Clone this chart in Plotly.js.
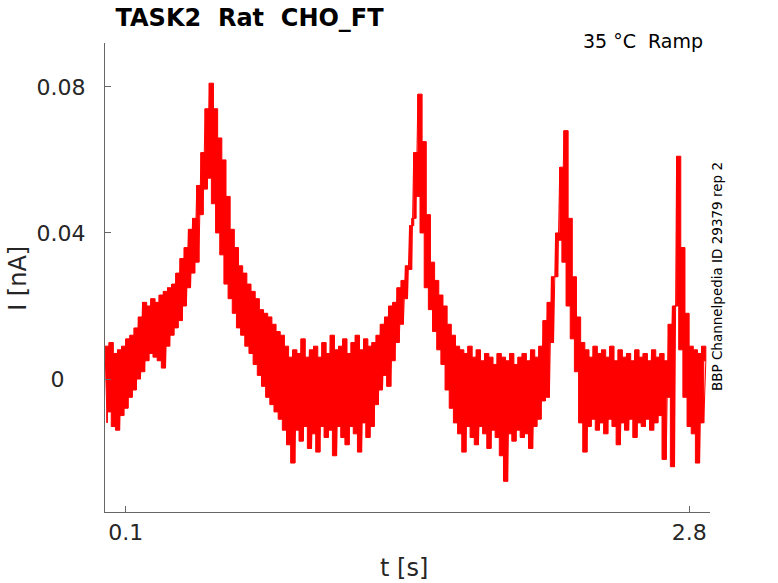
<!DOCTYPE html>
<html>
<head>
<meta charset="utf-8">
<script src="https://cdn.plot.ly/plotly-3.0.1.min.js"></script>
<style>
  html, body { margin: 0; padding: 0; background: #ffffff; }
  #plot { width: 778px; height: 583px; }
</style>
</head>
<body>
<div id="plot"></div>
<script>
/** @type {typeof import("plotly.js-dist-min")} */
const Plotly = window.Plotly;

// upper samples sit at t = 0, 0.02, 0.04 ... s, lower samples half a step later
const sampleStep = 0.02;
const upperPA = [
     9,  10,   7,   8,   9,   11,  12,  14,  17,  21,
    20,  22,  21,  23,  24,   25,  26,  29,  33,  36,
    41,  44,  53,  62,  74,   81,  74,  66,  60,  50,
    41,  36,  31,  29,  26,   24,  22,  19,  18,  17,
    15,  13,  12,   9,   6,    8,   7,  11,   6,   8,
     9,   6,  10,   7,  12,    8,   9,  11,   7,  10,
    12,   8,  11,   9,  10,   12,  15,  17,  20,  21,
    25,  27,  31,  42,  62,   78,  65,  45,  32,  27,
    23,  20,  15,  12,   9,    8,   7,   9,   6,   8,
     5,   7,   6,   4,   7,    6,   5,   7,   4,   6,
     7,   5,   8,   6,   9,   16,  21,  28,  40,  58,
    68,  44,  28,  17,  10,    8,   6,   9,   7,   8,
     6,   9,   5,   8,   6,    7,   5,   8,   6,   7,
     5,   8,   6,   7,   5,   15,  20,  61,  36,  18,
     9,   8,   7,   9,   5
];
const lowerPA = [
   -12,  -9, -13, -14, -10,   -8,  -5,  -3,   0,   2,
     5,   7,   6,   5,   3,    9,  12,  14,  16,  20,
    25,  29,  32,  45,  52,   55,  48,  40,  34,  26,
    22,  18,  14,  12,   9,    7,   4,   1,  -2,  -5,
    -7,  -9, -11, -14, -18,  -23, -14, -17, -13, -19,
   -15, -20, -13, -16, -14,  -21, -13, -16, -18, -13,
   -15, -20, -12, -16, -13,   -7,  -3,   1,  -2,   5,
    10,  15,  22,  30,  44,   50,  40,  25,  19,  13,
     8,   4,  -3,  -8, -12,  -15, -20, -13, -16, -18,
   -13, -15, -19, -14, -16,  -21, -28, -15, -17, -14,
   -16, -15, -19, -13, -11,   -6,  -5,  10,  28,  38,
    32,  20,  11,   2, -12,  -20, -13, -11, -14, -12,
   -15, -11, -13, -18, -12,  -14, -11, -16, -12, -13,
   -11, -14, -12, -10, -22,   -5, -24,  20,   8,  -5,
   -13, -15, -23, -12
];

const xTickVals = [0.1, 2.8];
const xTickText = ["0.1", "2.8"];
const yTickVals = [0, 0.04, 0.08];
const yTickText = ["0\u00a0\u00a0\u00a0", "0.04", "0.08"];

const upperTimes = upperPA.map((v, i) => i * sampleStep);
const lowerTimes = lowerPA.map((v, i) => i * sampleStep + sampleStep / 2);

// outline: along the upper excursions, back along the lower ones, filled
const bandX = upperTimes.concat(lowerTimes.slice().reverse());
const bandY = upperPA.concat(lowerPA.slice().reverse()).map(v => v / 1000);

// the same samples in time order, drawn as a thin line over the band
const zigX = [];
const zigY = [];
upperPA.forEach((v, i) => {
    zigX.push(upperTimes[i]);
    zigY.push(v / 1000);
    if (i < lowerPA.length) {
        zigX.push(lowerTimes[i]);
        zigY.push(lowerPA[i] / 1000);
    }
});

const traceBand = {
    x: bandX,
    y: bandY,
    mode: "lines",
    type: "scatter",
    fill: "toself",
    fillcolor: "#ff0000",
    line: { color: "#ff0000", width: 1, shape: "hv" },
    hoverinfo: "skip"
};

const traceCurrent = {
    x: zigX,
    y: zigY,
    mode: "lines",
    type: "scatter",
    line: { color: "#ff0000", width: 1 },
    hoverinfo: "skip"
};

const axisColor = "#666666";
const textColor = "#262626";

const layout = {
    width: 778,
    height: 583,
    margin: { l: 105, r: 68, t: 43, b: 71 },
    font: { family: "DejaVu Sans", color: textColor },
    paper_bgcolor: "#ffffff",
    plot_bgcolor: "#ffffff",
    showlegend: false,
    title: {
        text: "<b>TASK2\u00a0\u00a0Rat\u00a0\u00a0CHO_FT</b>",
        font: { size: 24, color: "#000000" },
        xref: "paper",
        x: 0.239,
        xanchor: "center",
        yref: "container",
        y: 0.969,
        yanchor: "middle"
    },
    xaxis: {
        range: [0, 2.9],
        tickvals: xTickVals,
        ticktext: xTickText,
        ticks: "inside",
        ticklen: 6,
        tickcolor: axisColor,
        showline: true,
        linecolor: axisColor,
        linewidth: 1,
        showgrid: false,
        zeroline: false,
        ticklabelstandoff: 1,
        tickfont: { size: 22, color: textColor }
    },
    yaxis: {
        range: [-0.0364, 0.092],
        tickvals: yTickVals,
        ticktext: yTickText,
        ticks: "inside",
        ticklen: 6,
        tickcolor: axisColor,
        showline: true,
        linecolor: axisColor,
        linewidth: 1,
        showgrid: false,
        zeroline: false,
        ticklabelstandoff: 14,
        tickfont: { size: 22, color: textColor }
    },
    annotations: [
        {
            text: "t [s]",
            xref: "paper", yref: "paper",
            x: 0.494, y: -0.119,
            xanchor: "center", yanchor: "middle",
            showarrow: false,
            font: { size: 24, color: textColor }
        },
        {
            text: "I [nA]",
            xref: "paper", yref: "paper",
            x: -0.144, y: 0.499,
            xanchor: "center", yanchor: "middle",
            textangle: -90,
            showarrow: false,
            font: { size: 24, color: textColor }
        },
        {
            text: "35 °C\u00a0\u00a0Ramp",
            xref: "paper", yref: "paper",
            x: 0.992, y: 1.004,
            xanchor: "right", yanchor: "middle",
            showarrow: false,
            font: { size: 19, color: "#000000" }
        },
        {
            text: "BBP Channelpedia ID 29379 rep 2",
            xref: "paper", yref: "paper",
            x: 1.0116, y: 0.501,
            xanchor: "center", yanchor: "middle",
            textangle: -90,
            showarrow: false,
            font: { size: 13.5, color: "#000000" }
        }
    ]
};

Plotly.newPlot("plot", [traceBand, traceCurrent], layout, { displayModeBar: false, staticPlot: true });
</script>
</body>
</html>
